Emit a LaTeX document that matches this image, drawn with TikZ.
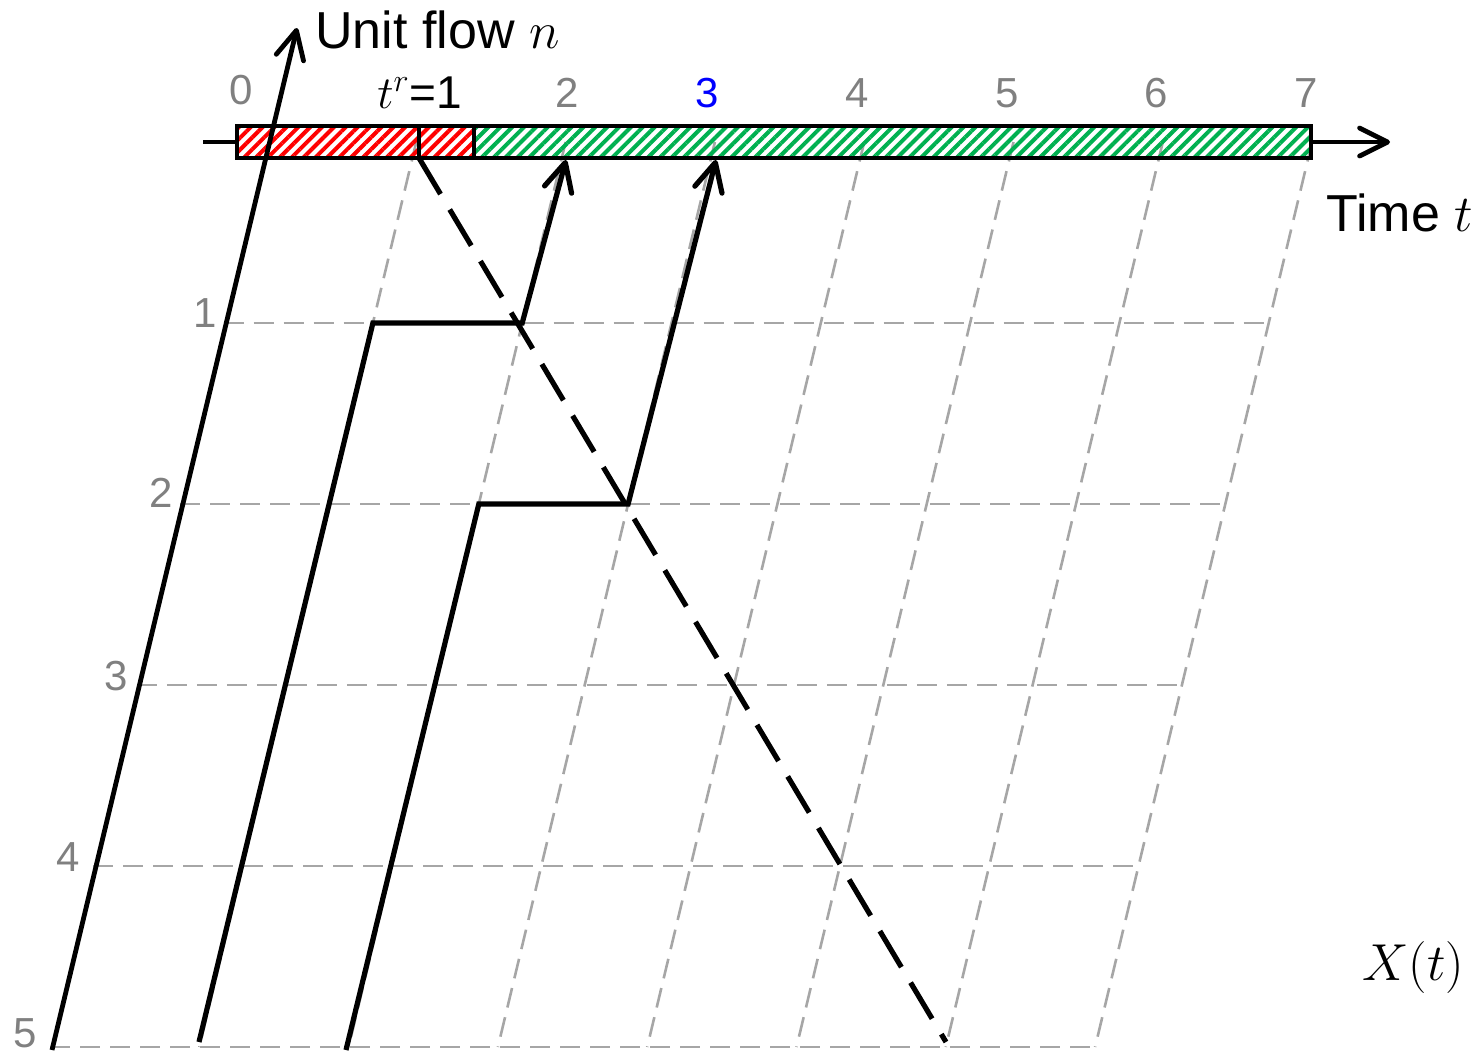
\RequirePackage{fix-cm}
\documentclass[tikz,border=0pt]{standalone}
\usepackage{fontspec}
\setmainfont{Liberation Sans}
\usetikzlibrary{arrows.meta,patterns.meta}
\definecolor{gridgray}{HTML}{A6A6A6}
\definecolor{labgray}{HTML}{808080}
\definecolor{hatchgreen}{HTML}{00B050}
\definecolor{hatchred}{HTML}{FF0000}
\definecolor{labblue}{HTML}{0000FF}
\tikzset{
  griddash/.style={draw=gridgray, line width=1.3pt, dash pattern=on 10pt off 5pt},
  traj/.style={line width=2.6pt, line join=miter},
  axisline/.style={line width=2.4pt},
  flowtip/.style={-{Straight Barb[length=14pt,width=14pt,round]}},
  dashtraj/.style={line width=2.6pt, dash pattern=on 21pt off 9pt},
  barbox/.style={line width=2.2pt, draw=black},
  redhatch/.style={pattern={Lines[angle=45,distance=4.2pt,line width=2pt]}, pattern color=hatchred},
  greenhatch/.style={pattern={Lines[angle=45,distance=4.2pt,line width=2pt]}, pattern color=hatchgreen},
  toplab/.style={font=\fontsize{21}{25}\selectfont, text=labgray, inner sep=0pt},
  biglab/.style={font=\fontsize{26}{31}\selectfont, inner sep=0pt},
}
\begin{document}
\begin{tikzpicture}[x=0.5pt,y=-0.5pt]
\useasboundingbox (0,0) rectangle (1481,1055);
% grid points P(t,n)
\foreach \t in {0,...,7}{
  \foreach \n in {0,...,5}{
    \coordinate (p\t\n) at ({267+149.3*\t-43.4*\n},{142+181*\n});
  }
}
% gray grid
\foreach \n in {1,...,5}{ \draw[griddash] (p0\n) -- (p7\n); }
\foreach \t in {1,...,7}{ \draw[griddash] (p\t0) -- (p\t5); }
% bar
\fill[redhatch] (237,126) rectangle (474,158);
\fill[greenhatch] (474,126) rectangle (1311,158);
\draw[barbox] (237,126) rectangle (1311,158);
\coordinate (divAt) at (419,126);
\coordinate (divAb) at (419,158);
\coordinate (divBt) at (474,126);
\coordinate (divBb) at (474,158);
\draw[barbox] (divAt) -- (divAb);
\draw[barbox] (divBt) -- (divBb);
% time axis
\coordinate (tstart) at (203,142);
\coordinate (barL) at (237,142);
\coordinate (barR) at (1311,142);
\coordinate (tend) at (1390,142);
\draw[axisline] (tstart) -- (barL);
\draw[axisline, flowtip] (barR) -- (tend);
% unit flow axis
\coordinate (nbot) at (52,1050);
\coordinate (ntop) at (297,28);
\draw[axisline, flowtip] (nbot) -- (ntop);
% trajectories
\coordinate (a2) at (199,1042);
\coordinate (tip2) at (566,160);
\draw[traj, flowtip] (a2) -- (p11) -- (p21) -- (tip2);
\coordinate (a3) at (346,1050);
\coordinate (tip3) at (716,160);
\draw[traj, flowtip] (a3) -- (p22) -- (p32) -- (tip3);
% dashed trajectory X(t)
\coordinate (d1) at (946,1042);
\draw[dashtraj] (divAb) -- (d1);
% top labels
\node[toplab] (l0) at (241,90) {0};
\node[toplab, text=black, anchor=base west, font=\fontsize{23}{27}\selectfont] (ltr) at (377,108) {$t^{r}$=1};
\node[toplab] (l2) at (567,93) {2};
\node[toplab, text=labblue] (l3) at (707,93) {3};
\node[toplab] (l4) at (857,93) {4};
\node[toplab] (l5) at (1007,93) {5};
\node[toplab] (l6) at (1156,93) {6};
\node[toplab] (l7) at (1306,93) {7};
% left labels
\node[toplab] (r1) at (205,313) {1};
\node[toplab] (r2) at (161,493) {2};
\node[toplab] (r3) at (116,676) {3};
\node[toplab] (r4) at (68,857) {4};
\node[toplab] (r5) at (25,1033) {5};
% axis titles
\node[biglab, anchor=base west] (ylab) at (315,48) {Unit flow $n$};
\node[biglab, anchor=base west] (xlab) at (1326,231) {Time $t$};
\node[biglab, anchor=base west] (Xt) at (1362,980) {$X(t)$};
\end{tikzpicture}
\end{document}
